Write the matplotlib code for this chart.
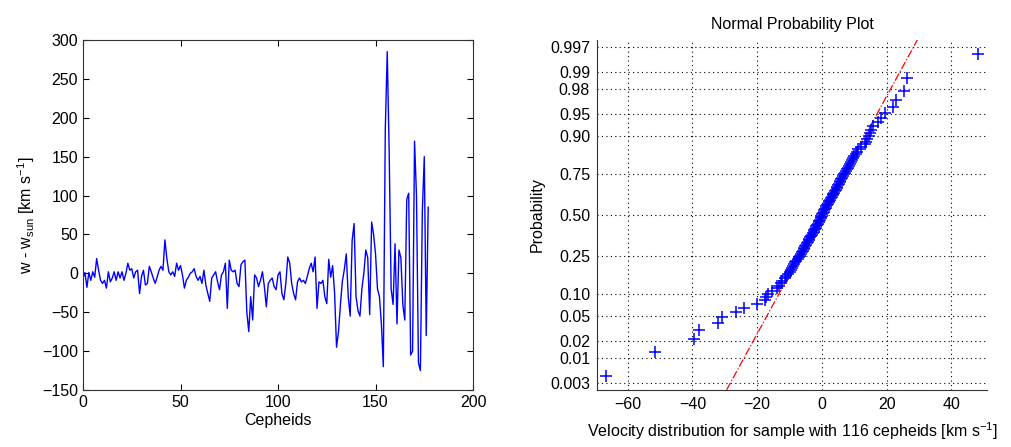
import numpy as np
import matplotlib
matplotlib.use('Agg')
import matplotlib.pyplot as plt
from statistics import NormalDist

plt.rcParams['font.family'] = ['Liberation Sans', 'DejaVu Sans']
plt.rcParams['mathtext.default'] = 'regular'
plt.rcParams['font.size'] = 11.5

# Left: velocity residual per cepheid
w_resid = [
    # 0-65
    -6, 1, -18, 1, -9, 2, -5, 19, 4, -9,
    -13, -9, -19, 2, -11, -6, 2, -9, 2, -6,
    2, -9, 0, 13, 4, 6, -6, 2, 4, -26,
    -4, 4, -15, -13, 9, 2, -6, -13, -5, 4,
    9, 4, 43, 19, 2, -2, 2, -4, 13, 4,
    10, -2, -19, -9, -5, 0, 2, 6, -4, -9,
    -4, -13, 4, -15, -26, -36,
    # 66-126
    -6, -2, 2, -11, -21, -2, 2, 13, -45, 17,
    4, 2, 4, -13, -17, 11, 15, 17, -50, -75,
    -30, -60, -2, -6, -17, -9, 2, -17, -43, -13,
    -9, -6, -17, -21, -2, 2, -26, -34, -13, 21,
    13, -13, -26, -34, -11, -6, -11, -9, -13, -4,
    6, 13, 2, 21, -45, -11, -13, -9, -30, -39,
    18,
    # 127-177
    -5, 10, -25, -95, -75, -40, -10, 5, 25, -30,
    -55, 42, 64, -30, -48, -55, -20, 0, 30, 20,
    -53, 66, 50, 25, -20, -30, -65, -120, 185, 285,
    155, -20, -40, 38, -65, 30, 20, -40, -60, 95,
    103, -105, -100, 170, 100, -115, -125, 80, 150, -80,
    85,
]

# Right: sorted velocities of the 116-cepheid sample
velocities = [
    -66.6, -51.5, -39.6, -37.9, -32.0, -31.0, -26.7, -24.0, -20.0, -17.5,
    -17.2, -16.6, -15.5, -14.0, -13.2, -12.8, -12.3, -11.5, -11.0, -10.5,
    -10.0, -9.6, -9.2, -8.9, -8.5, -8.2, -7.9, -7.5, -7.2, -6.9,
    -6.6, -6.3, -6.0, -5.7, -5.4, -5.2, -4.9, -4.6, -4.4, -4.1,
    -3.9, -3.6, -3.3, -3.1, -2.9, -2.6, -2.4, -2.1, -1.9, -1.7,
    -1.5, -1.3, -1.0, -0.8, -0.6, -0.4, -0.3, -0.1, 0.1, 0.3,
    0.5, 0.7, 0.9, 1.1, 1.4, 1.6, 1.8, 2.1, 2.3, 2.5,
    2.8, 3.0, 3.3, 3.5, 3.8, 4.0, 4.2, 4.5, 4.7, 5.0,
    5.2, 5.5, 5.7, 6.0, 6.3, 6.6, 6.9, 7.1, 7.4, 7.7,
    8.0, 8.4, 8.7, 9.0, 9.4, 9.7, 10.0, 10.4, 10.7, 11.1,
    12.0, 13.2, 13.7, 13.9, 14.4, 14.8, 15.3, 15.8, 17.3, 18.2,
    19.4, 21.8, 23.0, 25.4, 26.4, 48.1,
]

prob_ticks = [0.003, 0.01, 0.02, 0.05, 0.10, 0.25, 0.50, 0.75, 0.90, 0.95, 0.98, 0.99, 0.997]
prob_labels = ['0.003', '0.01', '0.02', '0.05', '0.10', '0.25', '0.50', '0.75',
               '0.90', '0.95', '0.98', '0.99', '0.997']

nd = NormalDist()
fig = plt.figure(figsize=(10.11, 4.47), dpi=100)

# ---- left panel
ax1 = fig.add_axes([0.0821, 0.1275, 0.3858, 0.783])
ax1.plot(np.arange(len(w_resid)), w_resid, color='blue', lw=1.0)
ax1.set_xlim(0, 200)
ax1.set_ylim(-150, 300)
ax1.set_xticks(range(0, 201, 50))
ax1.set_yticks(range(-150, 301, 50))
ax1.tick_params(direction='in', top=True, right=True, length=4, width=0.8)
ax1.set_xlabel('Cepheids', labelpad=2)
ax1.set_ylabel('w - w$_{sun}$ [km s$^{-1}$]', labelpad=4)
for s in ax1.spines.values():
    s.set_color('#333333')

# ---- right panel: normal probability plot
n = len(velocities)
v = np.sort(np.array(velocities))
z = np.array([nd.inv_cdf((i - 0.5) / n) for i in range(1, n + 1)])

ax2 = fig.add_axes([0.5905, 0.1275, 0.3858, 0.783])

# reference line through the quartiles, extended to the data range
q1, q3 = np.percentile(v, [25, 75])
z1, z3 = nd.inv_cdf(0.25), nd.inv_cdf(0.75)
slope = (z3 - z1) / (q3 - q1)
xl = np.array([v.min(), q1])
xr = np.array([q3, v.max()])
xm = np.array([q1, q3])
ax2.plot(xl, z1 + slope * (xl - q1), color='red', ls='-.', lw=0.9, zorder=2)
ax2.plot(xr, z1 + slope * (xr - q1), color='red', ls='-.', lw=0.9, zorder=2)
ax2.plot(xm, z1 + slope * (xm - q1), color='red', ls='-', lw=0.9, zorder=2)

ax2.plot(v, z, '+', color='blue', ms=8, mew=1.1, zorder=3)

zlim = nd.inv_cdf(1 - 0.25 / n)
ax2.set_ylim(-zlim, zlim)
ax2.set_xlim(-69.5, 51)
ax2.set_yticks([nd.inv_cdf(p) for p in prob_ticks])
ax2.set_yticklabels(prob_labels)
ax2.set_xticks(range(-60, 41, 20))
ax2.grid(True, color='black', ls=(0, (1, 3)), lw=0.8)
ax2.tick_params(direction='in', length=0, pad=5)
ax2.spines['top'].set_visible(False)
ax2.spines['right'].set_visible(False)
for s in ['left', 'bottom']:
    ax2.spines[s].set_color('#333333')
ax2.set_title('Normal Probability Plot', fontsize=11.5, pad=8)
ax2.set_xlabel('Velocity distribution for sample with 116 cepheids [km s$^{-1}$]', labelpad=6)
ax2.set_ylabel('Probability', labelpad=4)

fig.savefig('out.png', dpi=100)
